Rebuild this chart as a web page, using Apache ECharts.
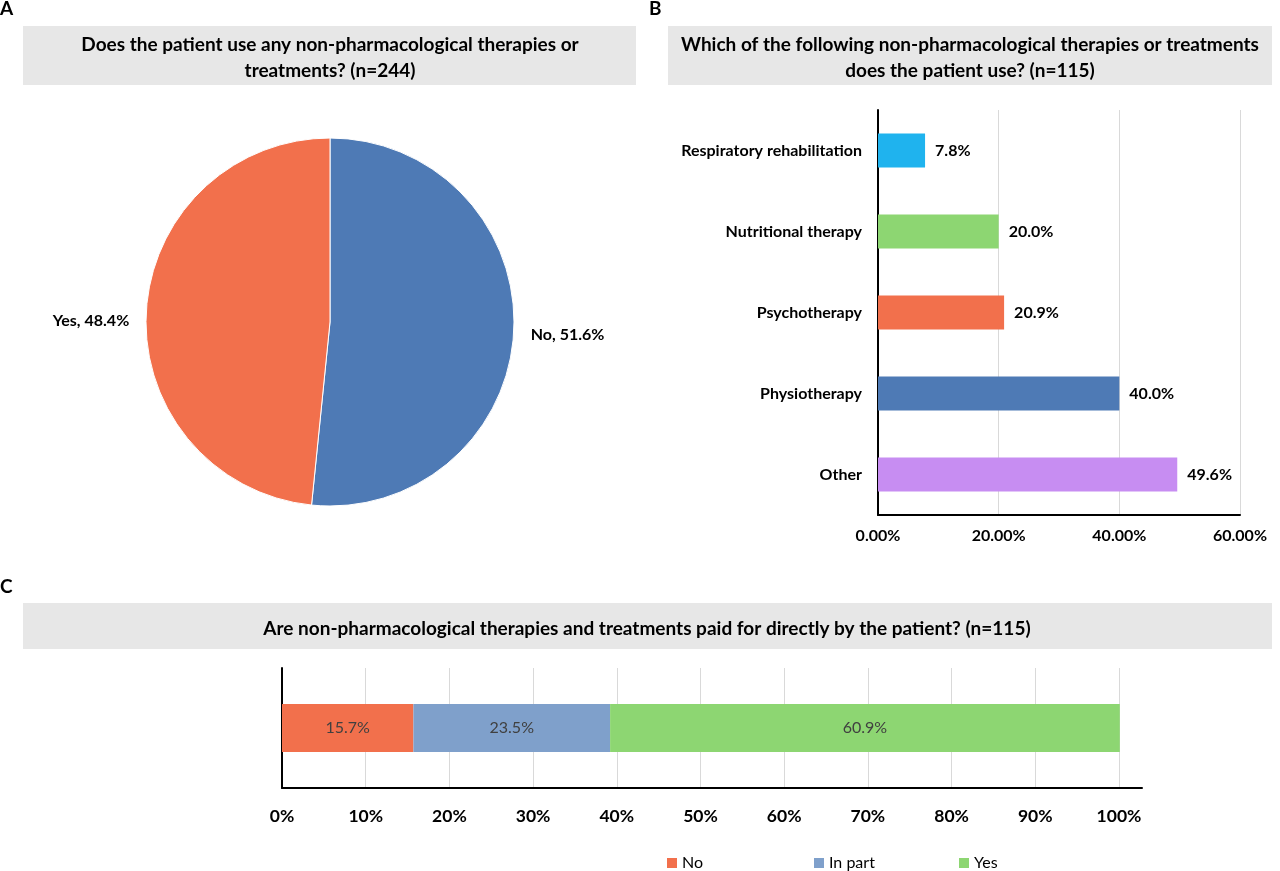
<!DOCTYPE html>
<html>
<head>
<meta charset="utf-8">
<script src="https://cdn.jsdelivr.net/npm/echarts@6/dist/echarts.min.js"></script>
<style>
  html, body { margin: 0; padding: 0; background: #fff; }
  #chart { width: 1280px; height: 871px; }
</style>
</head>
<body>
<div id="chart"></div>
<script>
// panel A: use of non-pharmacological therapies (n=244)
var pieNames = ['No', 'Yes'];
var pieValues = [51.6, 48.4];
var pieColors = ['#4E7AB5', '#F2704C'];

// panel B: which therapies (n=115)
var therapyNames = ['Respiratory rehabilitation', 'Nutritional therapy', 'Psychotherapy', 'Physiotherapy', 'Other'];
var therapyValues = [7.8, 20.0, 20.9, 40.0, 49.6];
var therapyColors = ['#1FB3EE', '#8DD672', '#F2704C', '#4E7AB5', '#C78DF2'];

// panel C: paid directly by the patient (n=115)
var payNames = ['No', 'In part', 'Yes'];
var payValues = [15.7, 23.5, 60.9];
var payColors = ['#F2704C', '#7FA0CB', '#8DD672'];
var payLegendLeft = [667, 814, 959];

var FONT = 'Lato';
var chart = echarts.init(document.getElementById('chart'));

function titleStyle(size, lh) {
  return { fontSize: size, fontWeight: 'bold', color: '#000', lineHeight: lh, fontFamily: FONT };
}

var option = {
  backgroundColor: '#fff',
  textStyle: { fontFamily: FONT },
  graphic: [
    { type: 'rect', z: -10, shape: { x: 23, y: 26, width: 613, height: 59 }, style: { fill: '#E7E7E7' } },
    { type: 'rect', z: -10, shape: { x: 668, y: 26, width: 604, height: 59 }, style: { fill: '#E7E7E7' } },
    { type: 'rect', z: -10, shape: { x: 23, y: 603, width: 1249, height: 46 }, style: { fill: '#E7E7E7' } }
  ],
  title: [
    { text: 'A', left: 0, top: -1, padding: 0, textStyle: titleStyle(19, 20) },
    { text: 'B', left: 649, top: -1, padding: 0, textStyle: titleStyle(19, 20) },
    { text: 'C', left: 0, top: 577, padding: 0, textStyle: titleStyle(19, 20) },
    {
      text: 'Does the patient use any non-pharmacological therapies or\ntreatments? (n=244)',
      left: 330, top: 32, padding: 0, textAlign: 'center',
      textStyle: titleStyle(19, 26)
    },
    {
      text: 'Which of the following non-pharmacological therapies or treatments\ndoes the patient use? (n=115)',
      left: 970, top: 32, padding: 0, textAlign: 'center',
      textStyle: titleStyle(19, 26)
    },
    {
      text: 'Are non-pharmacological therapies and treatments paid for directly by the patient? (n=115)',
      left: 647, top: 617, padding: 0, textAlign: 'center',
      textStyle: titleStyle(19, 24)
    }
  ],
  legend: payNames.map(function (n, i) {
    return {
      data: [n],
      left: payLegendLeft[i], top: 855,
      padding: 0,
      itemWidth: 10, itemHeight: 10,
      icon: 'rect',
      textStyle: { fontSize: 16, color: '#000', fontFamily: FONT }
    };
  }),
  grid: [
    { left: 878, top: 110, width: 362, height: 405 },
    { left: 282, top: 668, width: 860, height: 120 }
  ],
  xAxis: [
    {
      gridIndex: 0, type: 'value', min: 0, max: 60, interval: 20,
      axisLine: { show: true, lineStyle: { color: '#000', width: 2 } },
      axisTick: { show: false },
      splitLine: { lineStyle: { color: '#D9D9D9' } },
      axisLabel: {
        margin: 13, fontSize: 16, fontWeight: 'bold', color: '#000', fontFamily: FONT,
        formatter: function (v) { return v.toFixed(2) + '%'; }
      }
    },
    {
      gridIndex: 1, type: 'value', min: 0, max: 102.75, interval: 10,
      axisLine: { show: true, lineStyle: { color: '#000', width: 2 } },
      axisTick: { show: false },
      splitLine: {
        lineStyle: {
          color: ['#D9D9D9', '#D9D9D9', '#D9D9D9', '#D9D9D9', '#D9D9D9', '#D9D9D9',
                  '#D9D9D9', '#D9D9D9', '#D9D9D9', '#D9D9D9', '#D9D9D9', 'rgba(0,0,0,0)']
        }
      },
      axisLabel: {
        margin: 19, fontSize: 17.5, fontWeight: 'bold', color: '#000', fontFamily: FONT,
        formatter: function (v) { return v > 100 ? '' : v + '%'; }
      }
    }
  ],
  yAxis: [
    {
      gridIndex: 0, type: 'category', data: therapyNames, inverse: true,
      axisLine: { show: true, lineStyle: { color: '#000', width: 2 } },
      axisTick: { show: false },
      axisLabel: { margin: 16, fontSize: 16, fontWeight: 'bold', color: '#000', fontFamily: FONT }
    },
    {
      gridIndex: 1, type: 'category', data: [''],
      axisLine: { show: true, lineStyle: { color: '#000', width: 2 } },
      axisTick: { show: false },
      axisLabel: { show: false }
    }
  ],
  series: [
    {
      type: 'pie',
      center: [330, 322],
      radius: 184,
      startAngle: 90,
      clockwise: true,
      silent: true,
      itemStyle: { borderColor: '#fff', borderWidth: 1 },
      label: {
        show: true, position: 'outside', fontSize: 16, fontWeight: 'bold', color: '#000', fontFamily: FONT,
        formatter: function (p) { return p.name + ', ' + p.value.toFixed(1) + '%'; }
      },
      labelLine: { show: false, length: 8, length2: 4 },
      data: pieNames.map(function (n, i) {
        return {
          name: n, value: pieValues[i], itemStyle: { color: pieColors[i] },
          label: { offset: [0, i === 0 ? 3 : 8] }
        };
      })
    },
    {
      type: 'bar',
      xAxisIndex: 0, yAxisIndex: 0,
      barWidth: 34,
      data: therapyValues.map(function (v, i) {
        return { value: v, itemStyle: { color: therapyColors[i] } };
      }),
      label: {
        show: true, position: 'right', distance: 10,
        fontSize: 16, fontWeight: 'bold', color: '#000', fontFamily: FONT,
        formatter: function (p) { return p.value.toFixed(1) + '%'; }
      }
    }
  ].concat(payNames.map(function (n, i) {
    return {
      name: n,
      type: 'bar',
      xAxisIndex: 1, yAxisIndex: 1,
      stack: 'pay',
      barWidth: 48,
      itemStyle: { color: payColors[i] },
      data: [payValues[i]],
      label: {
        show: true, position: 'inside', fontSize: 16, color: '#404040', fontFamily: FONT,
        formatter: function (p) { return p.value.toFixed(1) + '%'; }
      }
    };
  }))
};

chart.setOption(option);
</script>
</body>
</html>
